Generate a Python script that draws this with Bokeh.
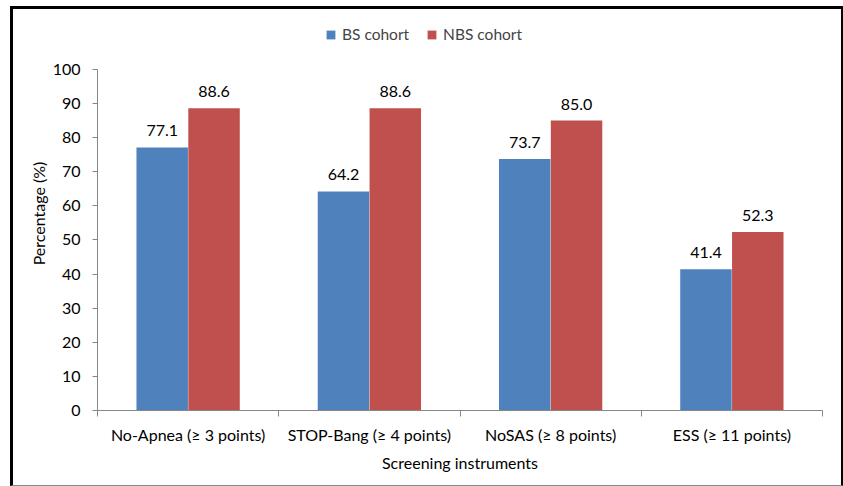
from bokeh.plotting import figure
from bokeh.models import ColumnDataSource, FixedTicker, Legend, LegendItem, Range1d, LabelSet, Title
from bokeh.core.properties import value
from bokeh.embed import file_html
from bokeh.resources import INLINE

categories = ["No-Apnea (\u2265 3 points)", "STOP-Bang (\u2265 4 points)", "NoSAS (\u2265 8 points)", "ESS (\u2265 11 points)"]
bs_values = [77.1, 64.2, 73.7, 41.4]
nbs_values = [88.6, 88.6, 85.0, 52.3]
series_names = ["BS cohort", "NBS cohort"]
y_ticks = [0, 10, 20, 30, 40, 50, 60, 70, 80, 90, 100]
y_title = "Percentage (%)"
x_title = "Screening instruments"

FONT = "Lato"
BLUE = "#4F81BD"
RED = "#C0504D"
GREY = "#868686"

n = len(categories)
centers = [i + 0.5 for i in range(n)]
off = 0.143
bw = 0.284

src_bs = ColumnDataSource(dict(x=[c - off for c in centers], top=bs_values,
                               lab=[f"{v:.1f}" for v in bs_values]))
src_nbs = ColumnDataSource(dict(x=[c + off for c in centers], top=nbs_values,
                                lab=[f"{v:.1f}" for v in nbs_values]))

p = figure(width=834, height=480, output_backend="svg", toolbar_location=None,
           x_range=Range1d(0, n), y_range=Range1d(0, 115.5))
p.min_border_left = 84
p.min_border_right = 25
p.min_border_top = 7
p.min_border_bottom = 79
p.outline_line_color = None
p.grid.grid_line_color = None
p.styles = {"margin-left": "10px", "margin-top": "6px",
            "border-left": "3px solid black", "border-top": "3px solid black",
            "border-right": "3px solid black", "border-bottom": "1px solid #888888"}

r1 = p.vbar(x="x", top="top", width=bw, source=src_bs, fill_color=BLUE, line_color=None)
r2 = p.vbar(x="x", top="top", width=bw, source=src_nbs, fill_color=RED, line_color=None)

for src in (src_bs, src_nbs):
    p.add_layout(LabelSet(x="x", y="top", text="lab", source=src, text_align="center",
                          text_baseline="bottom", y_offset=11, text_font=value(FONT),
                          text_font_size="16px", text_color="black"))

# x axis
p.xaxis.ticker = FixedTicker(ticks=centers, minor_ticks=list(range(n + 1)))
p.xaxis.major_label_overrides = {c: lab for c, lab in zip(centers, categories)}
p.xaxis.major_tick_out = 0
p.xaxis.major_tick_in = 0
p.xaxis.minor_tick_out = 6
p.xaxis.minor_tick_in = 0
p.xaxis.minor_tick_line_color = GREY
p.xaxis.axis_line_color = GREY
p.xaxis.major_label_text_font = FONT
p.xaxis.major_label_text_font_size = "16px"
p.xaxis.major_label_text_color = "black"
p.xaxis.major_label_standoff = 8
p.xaxis.axis_label = x_title
p.xaxis.axis_label_text_font = FONT
p.xaxis.axis_label_text_font_size = "16px"
p.xaxis.axis_label_text_font_style = "normal"
p.xaxis.axis_label_text_color = "black"
p.xaxis.axis_label_standoff = 6

# y axis
p.yaxis.ticker = FixedTicker(ticks=y_ticks, minor_ticks=[])
p.yaxis.bounds = (0, 100)
p.yaxis.major_tick_out = 5
p.yaxis.major_tick_in = 0
p.yaxis.major_tick_line_color = GREY
p.yaxis.axis_line_color = GREY
p.yaxis.major_label_text_font = FONT
p.yaxis.major_label_text_font_size = "16px"
p.yaxis.major_label_text_color = "black"
p.yaxis.major_label_standoff = 12

# y axis title, centred on the 0-100 span (shifted down from frame centre)
p.add_layout(Title(text=y_title, align="center", offset=-26, text_font=FONT,
                   text_font_size="16px", text_font_style="normal", text_color="black",
                   standoff=4), "left")

legend = Legend(items=[LegendItem(label=series_names[0], renderers=[r1]),
                       LegendItem(label=series_names[1], renderers=[r2])],
                orientation="horizontal", location=(228, 367),
                label_text_font=FONT, label_text_font_size="15.5px",
                glyph_width=11, glyph_height=11, label_standoff=6, spacing=17,
                border_line_color=None, background_fill_alpha=0, margin=0, padding=2)
p.add_layout(legend, "center")

open("out.html", "w").write(file_html(p, INLINE))
